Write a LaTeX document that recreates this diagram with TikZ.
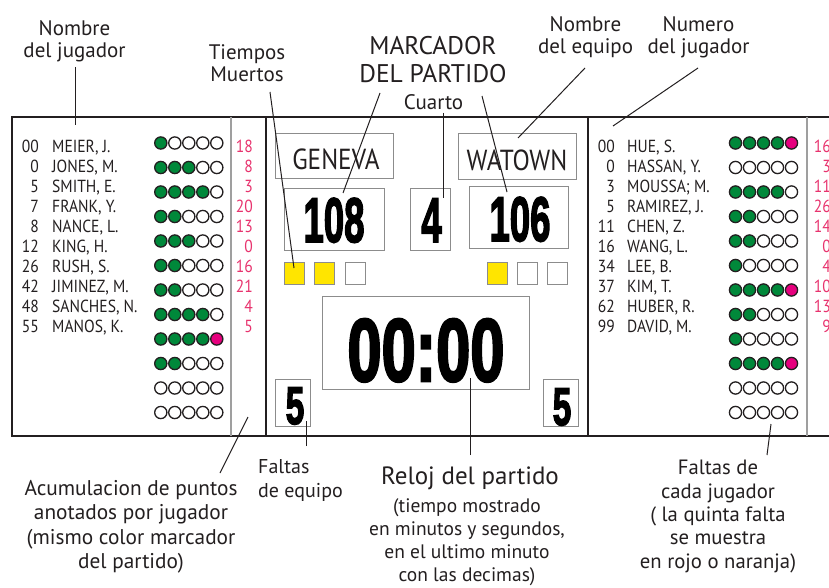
\documentclass[tikz,border=0pt]{standalone}
\usepackage{fontspec}
\setmainfont{PT Sans}
\newfontfamily\condf{PT Sans}[FakeStretch=0.89]
\newfontfamily\condg{PT Sans}[FakeStretch=0.87]
\newfontfamily\heavy{Liberation Sans}[FakeBold=3]
\definecolor{dotgreen}{HTML}{00883A}
\definecolor{dotpink}{HTML}{E6007E}
\definecolor{ptscol}{HTML}{E8336E}
\definecolor{tyellow}{HTML}{FFE500}
\definecolor{boxgray}{HTML}{8C8C8C}
\definecolor{ink}{HTML}{231F20}
\begin{document}
\begin{tikzpicture}[x=1pt,y=-1pt,
  lab/.style={font=\fontsize{21}{22.5}\selectfont, text=ink, inner sep=0pt, align=center, anchor=base},
  conn/.style={draw=ink, line width=1pt},
  frame/.style={draw=ink, line width=2.6pt},
  sep/.style={draw=gray!75, line width=1.3pt},
  pbox/.style={draw=boxgray, line width=1pt, fill=white, inner sep=0pt},
  tsq/.style={draw=boxgray, line width=1pt, inner sep=0pt, minimum width=20, minimum height=22},
  nm/.style={font=\condf\fontsize{17.5}{17.5}\selectfont, text=ink, inner sep=0pt},
  pts/.style={nm, text=ptscol, anchor=base east},
  team/.style={font=\condg\fontsize{29}{29}\selectfont, text=ink, inner sep=0pt, anchor=base},
  big/.style={font=\heavy\bfseries, text=black, inner sep=0pt, anchor=base},
  dot/.style={draw=ink, line width=1.3pt},
]
\useasboundingbox (0,0) rectangle (829,588);
\clip (0,0) rectangle (829,588);
\fill[white] (0,0) rectangle (829,588);

% ---------- board frame ----------
\draw[frame] (12,117) rectangle (845,436);
\draw[sep] (231,117) -- (231,436);
\draw[sep] (807,117) -- (807,436);
\draw[frame] (266,117) -- (266,436);
\draw[frame] (588,117) -- (588,436);

% ---------- player lists ----------
\foreach \num/\nm/\pt [count=\i from 0] in {00/{MEIER, J.}/18, 0/{JONES, M.}/8, 5/{SMITH, E.}/3, 7/{FRANK, Y.}/20, 8/{NANCE, L.}/13, 12/{KING, H.}/0, 26/{RUSH, S.}/16, 42/{JIMINEZ, M.}/21, 48/{SANCHES, N.}/4, 55/{MANOS, K.}/5}{
  \node[nm, anchor=base east] (ln\i) at (39,152.7+20*\i) {\num};
  \node[nm, anchor=base west] (lp\i) at (52,152.7+20*\i) {\nm};
  \node[pts] (lq\i) at (253,152.7+20*\i) {\pt};
}
\foreach \num/\nm/\pt [count=\i from 0] in {00/{HUE, S.}/16, 0/{HASSAN, Y.}/3, 3/{MOUSSA; M.}/11, 5/{RAMIREZ, J.}/26, 11/{CHEN, Z.}/14, 16/{WANG, L.}/0, 34/{LEE, B.}/4, 37/{KIM, T.}/10, 62/{HUBER, R.}/13, 99/{DAVID, M.}/9}{
  \node[nm, anchor=base east] (rn\i) at (615,152.7+20*\i) {\num};
  \node[nm, anchor=base west] (rp\i) at (627,152.7+20*\i) {\nm};
  \node[pts] (rq\i) at (831,152.7+20*\i) {\pt};
}

% ---------- foul dots ----------
\foreach \n [count=\i from 0] in {1,3,4,2,3,2,2,4,5,2,0,0}{
  \foreach \k in {1,...,5}{
    \ifnum\k>\n \def\cc{white}\else\ifnum\k=5 \def\cc{dotpink}\else\def\cc{dotgreen}\fi\fi
    \draw[dot, fill=\cc] (146.8+14*\k,143+24.5*\i) circle[radius=6.1];
  }
}
\foreach \n [count=\i from 0] in {5,0,4,2,2,1,5,2,1,5,0,0}{
  \foreach \k in {1,...,5}{
    \ifnum\k>\n \def\cc{white}\else\ifnum\k=5 \def\cc{dotpink}\else\def\cc{dotgreen}\fi\fi
    \draw[dot, fill=\cc] (721.5+14*\k,143+24.5*\i) circle[radius=6.1];
  }
}

% ---------- centre panel ----------
\node[pbox, minimum width=118, minimum height=45] (geneva) at (334,155.8) {};
\node[pbox, minimum width=117.7, minimum height=46] (watown) at (517.8,156.3) {};
\node[team] (genevat) at (336,170) {GENEVA};
\node[team] (watownt) at (517,171) {WATOWN};

\node[pbox, minimum width=100, minimum height=61.7] (s108) at (334,219.2) {};
\node[pbox, minimum width=40, minimum height=61.7] (q4) at (430.7,219.2) {};
\node[pbox, minimum width=99.3, minimum height=61.7] (s106) at (518.7,217.5) {};
\node[big, font=\heavy\bfseries\fontsize{63}{63}\selectfont, xscale=0.58] (s108t) at (334,242) {108};
\node[big, font=\heavy\bfseries\fontsize{63}{63}\selectfont, xscale=0.58] (q4t) at (431.5,242) {4};
\node[big, font=\heavy\bfseries\fontsize{63}{63}\selectfont, xscale=0.58] (s106t) at (520,241) {106};

\node[tsq, fill=tyellow] (tl1) at (294,273.8) {};
\node[tsq, fill=tyellow] (tl2) at (324,273.8) {};
\node[tsq, fill=white] (tl3) at (355,273.8) {};
\node[tsq, fill=tyellow] (tr1) at (497,273.8) {};
\node[tsq, fill=white] (tr2) at (527,273.8) {};
\node[tsq, fill=white] (tr3) at (557,273.8) {};

\node[pbox, minimum width=206.6, minimum height=93.3] (clock) at (426,342.7) {};
\node[big, font=\heavy\bfseries\fontsize{89}{89}\selectfont, xscale=0.69] (clockt) at (426,381) {00:00};

\node[pbox, minimum width=35, minimum height=47.4] (fl) at (292.5,403) {};
\node[pbox, minimum width=35, minimum height=46.7] (fr) at (560.8,403.3) {};
\node[big, font=\heavy\bfseries\fontsize{53}{53}\selectfont, xscale=0.63] (flt) at (295,424) {5};
\node[big, font=\heavy\bfseries\fontsize{53}{53}\selectfont, xscale=0.63] (frt) at (562,425) {5};

% ---------- labels (anchor = baseline of the last line) ----------
\node[lab] (l1) at (74.5,58) {Nombre\\del jugador};
\node[lab] (l2) at (247,82) {Tiempos\\Muertos};
\node[lab, font=\fontsize{25.5}{28}\selectfont] (l3) at (433,82.5) {MARCADOR\\DEL PARTIDO};
\node[lab] (l4) at (433.5,110) {Cuarto};
\node[lab] (l5) at (585.5,54) {Nombre\\del equipo};
\node[lab] (l6) at (698.5,54) {Numero\\del jugador};
\node[lab, font=\fontsize{21.3}{24.3}\selectfont] (b1) at (131,568.5) {Acumulacion de puntos\\anotados por jugador\\(mismo color marcador\\del partido)};
\node[lab, align=left, anchor=base west, font=\fontsize{20}{24}\selectfont] (b2) at (258,497) {Faltas\\de equipo};
\node[lab, font=\fontsize{25}{25}\selectfont] (b3) at (470,484) {Reloj del partido};
\node[lab, font=\fontsize{19.5}{23}\selectfont] (b4) at (467,581) {(tiempo mostrado\\en minutos y segundos,\\en el ultimo minuto\\con las decimas)};
\node[lab, font=\fontsize{20.7}{23.3}\selectfont] (b5) at (718,568) {Faltas de\\cada jugador\\( la quinta falta\\se muestra\\en rojo o naranja)};

% ---------- connectors ----------
\coordinate (c1a) at (75,67);   \coordinate (c1b) at (75,125);
\coordinate (c2a) at (270,92);  \coordinate (c2b) at (294,268);
\coordinate (c3a) at (380,93);  \coordinate (c3b) at (343,193);
\coordinate (c4a) at (482,96);  \coordinate (c4b) at (507,192);
\coordinate (c5a) at (443,113); \coordinate (c5b) at (443,198);
\coordinate (c6a) at (585,68);  \coordinate (c6b) at (518,138);
\coordinate (c7a) at (698,68);  \coordinate (c7b) at (613,126);
\coordinate (c8a) at (220,473); \coordinate (c8b) at (248,417);
\coordinate (c9a) at (306,446); \coordinate (c9b) at (306,421);
\coordinate (c10a) at (470,455); \coordinate (c10b) at (470,378);
\coordinate (c11a) at (767,455); \coordinate (c11b) at (771,424);
\foreach \a/\b in {c1a/c1b,c2a/c2b,c3a/c3b,c4a/c4b,c5a/c5b,c6a/c6b,c7a/c7b,c8a/c8b,c9a/c9b,c10a/c10b,c11a/c11b}
  \draw[conn] (\a) -- (\b);
\end{tikzpicture}
\end{document}
